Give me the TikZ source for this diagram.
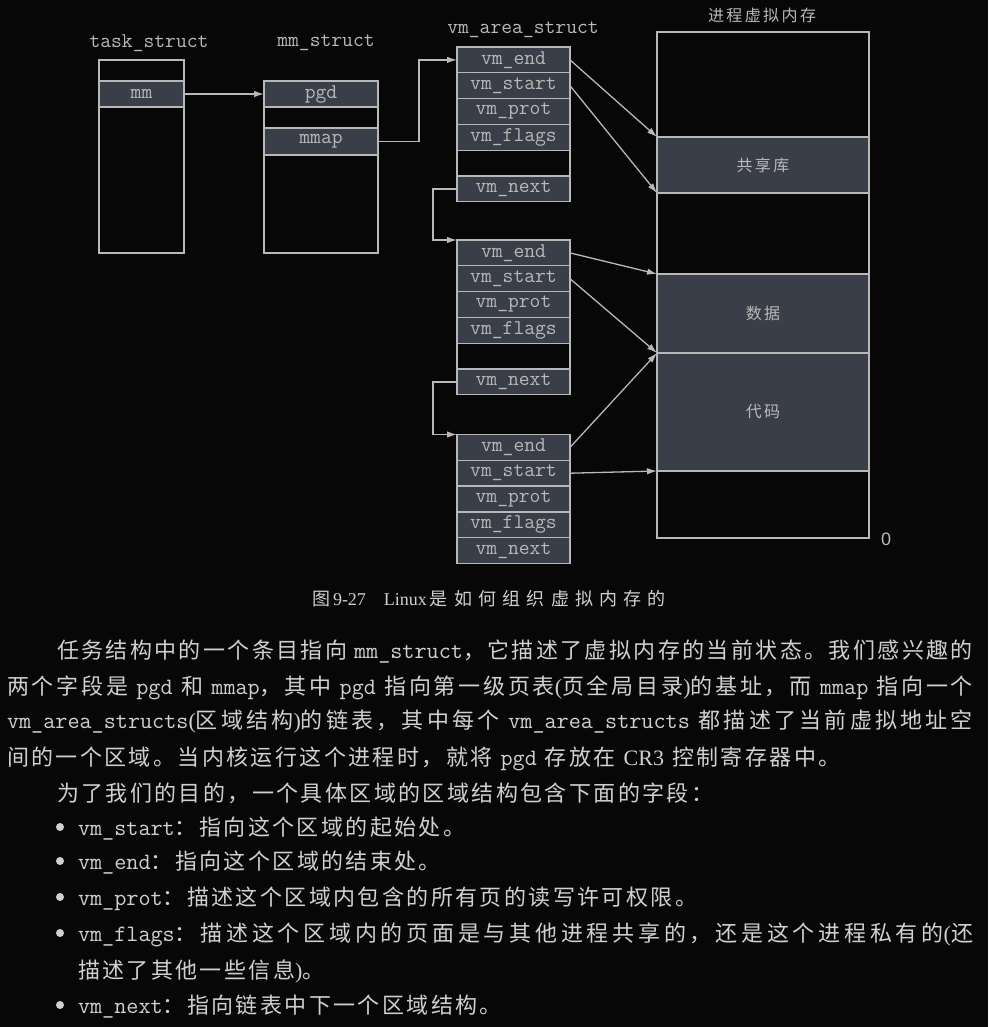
\documentclass[tikz,border=0pt]{standalone}
\usepackage{fontspec}
\setmainfont{Noto Sans CJK SC}
\newfontfamily\latin{Liberation Serif}
\newfontfamily\plain{Liberation Sans}
\newcount\hancount
\XeTeXinterchartokenstate=1
\newXeTeXintercharclass\hanclass
\hancount="4E00
\loop\ifnum\hancount<"A000
  \XeTeXcharclass\hancount=\hanclass
  \advance\hancount by 1
\repeat
\XeTeXcharclass"3002=\hanclass
\XeTeXcharclass"FF0C=\hanclass
\XeTeXcharclass"FF1A=\hanclass
\XeTeXinterchartoks\hanclass\hanclass={\hskip2.4pt plus 4pt\relax}
\usetikzlibrary{arrows.meta,positioning}
\definecolor{paper}{HTML}{070707}
\definecolor{ink}{HTML}{B8B8B8}
\definecolor{cellfill}{HTML}{393E48}
\definecolor{prose}{HTML}{D0D0D0}
\newcommand{\code}[1]{{\ttfamily\fontsize{23.5}{25}\selectfont #1}}
\newcommand{\prosefont}{\fontsize{22}{25}\selectfont\spaceskip=8pt plus 4pt minus 2pt\relax}

\begin{document}
\begin{tikzpicture}
      [x=1pt, y=-1pt,
       every node/.style={inner sep=0pt, outer sep=0pt},
       cell/.style={draw=ink, line width=1.3pt, text=ink,
                    font=\ttfamily\fontsize{21}{22}\selectfont},
       full/.style={cell, fill=cellfill},
       vmrow/.style={minimum width=113pt, minimum height=25.8pt},
       region/.style={minimum width=212pt, font=\fontsize{16}{20}\selectfont},
       title/.style={text=ink, font=\ttfamily\fontsize{21}{22}\selectfont},
       arr/.style={draw=ink, line width=1.3pt, -{Latex[length=10pt,width=6.5pt]}},
       prose/.style={text=prose, anchor=base west, font=\prosefont},
       dot/.style={circle, fill=prose, minimum size=8pt}]
      \useasboundingbox (0,0) rectangle (988,1027);
      \fill [paper] (0,0) rectangle (988,1027);

      \node [title] (tstitle)  at (149, 43) {task\_struct};
      \node [title] (mmtitle)  at (326, 43) {mm\_struct};
      \node [title] (vmtitle)  at (523, 30) {vm\_area\_struct};
      \node [title, font=\fontsize{16}{20}\selectfont] (pvmtitle) at (762, 15) {进程虚拟内存};

      \node [cell, minimum width=85pt, minimum height=21pt]  (tstop)  at (141.5,  70.5) {};
      \node [full, minimum width=85pt, minimum height=26pt]  (mm)     at (141.5,  94)   {mm};
      \node [cell, minimum width=85pt, minimum height=146pt] (tsrest) at (141.5, 180)   {};

      \node [full, minimum width=114pt, minimum height=26pt] (pgd)    at (321,  94)   {pgd};
      \node [cell, minimum width=114pt, minimum height=21pt] (mmgap)  at (321, 117.5) {};
      \node [full, minimum width=114pt, minimum height=27pt] (mmap)   at (321, 141.5) {mmap};
      \node [cell, minimum width=114pt, minimum height=98pt] (mmrest) at (321, 204)   {};

      \node [full, vmrow] (endA)   at (513.5,  59.9) {vm\_end};
      \node [full, vmrow] (startA) at (513.5,  85.7) {vm\_start};
      \node [full, vmrow] (protA)  at (513.5, 111.5) {vm\_prot};
      \node [full, vmrow] (flagsA) at (513.5, 137.3) {vm\_flags};
      \node [cell, vmrow] (gapA)   at (513.5, 163.1) {};
      \node [full, vmrow] (nextA)  at (513.5, 188.9) {vm\_next};

      \node [full, vmrow] (endB)   at (513.5, 252.9) {vm\_end};
      \node [full, vmrow] (startB) at (513.5, 278.7) {vm\_start};
      \node [full, vmrow] (protB)  at (513.5, 304.5) {vm\_prot};
      \node [full, vmrow] (flagsB) at (513.5, 330.3) {vm\_flags};
      \node [cell, vmrow] (gapB)   at (513.5, 356.1) {};
      \node [full, vmrow] (nextB)  at (513.5, 381.9) {vm\_next};

      \node [full, vmrow] (endC)   at (513.5, 447.4) {vm\_end};
      \node [full, vmrow] (startC) at (513.5, 473.2) {vm\_start};
      \node [full, vmrow] (protC)  at (513.5, 499.0) {vm\_prot};
      \node [full, vmrow] (flagsC) at (513.5, 524.8) {vm\_flags};
      \node [full, vmrow] (nextC)  at (513.5, 550.6) {vm\_next};

      \node [cell, region, minimum height=105pt] (high)  at (763,  84.5) {};
      \node [full, region, minimum height=56pt]  (shlib) at (763, 165)   {共享库};
      \node [cell, region, minimum height=81pt]  (hole)  at (763, 233.5) {};
      \node [full, region, minimum height=79pt]  (data)  at (763, 313.5) {数据};
      \node [full, region, minimum height=118pt] (code)  at (763, 412)   {代码};
      \node [cell, region, minimum height=67pt]  (low)   at (763, 504.5) {};
      \node [text=ink, font=\plain\fontsize{18}{20}\selectfont] (zero) at (886, 539) {0};

      \draw [arr] (mm) to (pgd);
      \draw [arr] (mmap.east) -- ++(41,0) |- (endA.west);
      \draw [arr] (endA.east)   to (shlib.north west);
      \draw [arr] (startA.east) to (shlib.south west);
      \draw [arr] (nextA.west) -- ++(-24,0) |- (endB.north west);
      \draw [arr] (endB.east)   to (data.north west);
      \draw [arr] (startB.east) to (data.south west);
      \draw [arr] (nextB.west) -- ++(-24,0) |- (endC.north west);
      \draw [arr] (endC.east)   to (code.north west);
      \draw [arr] (startC.east) to (code.south west);

      \node [prose, font=\fontsize{18}{22}\selectfont] (caption) at (312, 605)
            {\makebox[354pt][s]{图\,{\latin 9-27}\quad{\latin Linux}\,是如何组织虚拟内存的}};

      \node [prose] (line1) at (57, 658)
            {\makebox[916pt][s]{任务结构中的一个条目指向 \code{mm\_struct}，它描述了虚拟内存的当前状态。我们感兴趣的}};
      \node [prose] (line2) at (7, 694)
            {\makebox[966pt][s]{两个字段是 \code{pgd} 和 \code{mmap}，其中 \code{pgd} 指向第一级页表{\latin(}页全局目录{\latin)}的基址，而 \code{mmap} 指向一个}};
      \node [prose] (line3) at (7, 728)
            {\makebox[966pt][s]{\code{vm\_area\_structs}{\latin(}区域结构{\latin)}的链表，其中每个 \code{vm\_area\_structs} 都描述了当前虚拟地址空}};
      \node [prose] (line4) at (7, 765)
            {间的一个区域。当内核运行这个进程时，就将 \code{pgd} 存放在 {\latin CR3} 控制寄存器中。};
      \node [prose] (line5) at (57, 801)
            {为了我们的目的，一个具体区域的区域结构包含下面的字段：};

      \node [dot] (dot1) at (60, 827) {};
      \node [dot] (dot2) at (60, 861) {};
      \node [dot] (dot3) at (60, 897) {};
      \node [dot] (dot4) at (60, 933) {};
      \node [dot] (dot5) at (60, 1005) {};
      \node [prose] (item1) at (78, 835)  {\code{vm\_start}：指向这个区域的起始处。};
      \node [prose] (item2) at (78, 869)  {\code{vm\_end}：指向这个区域的结束处。};
      \node [prose] (item3) at (78, 905)  {\code{vm\_prot}：描述这个区域内包含的所有页的读写许可权限。};
      \node [prose] (item4) at (78, 941)
            {\makebox[895pt][s]{\code{vm\_flags}：描述这个区域内的页面是与其他进程共享的，还是这个进程私有的{\latin(}还}};
      \node [prose] (item4b) at (78, 978) {描述了其他一些信息{\latin)}。};
      \node [prose] (item5) at (78, 1013) {\code{vm\_next}：指向链表中下一个区域结构。};
    \end{tikzpicture}
\end{document}
